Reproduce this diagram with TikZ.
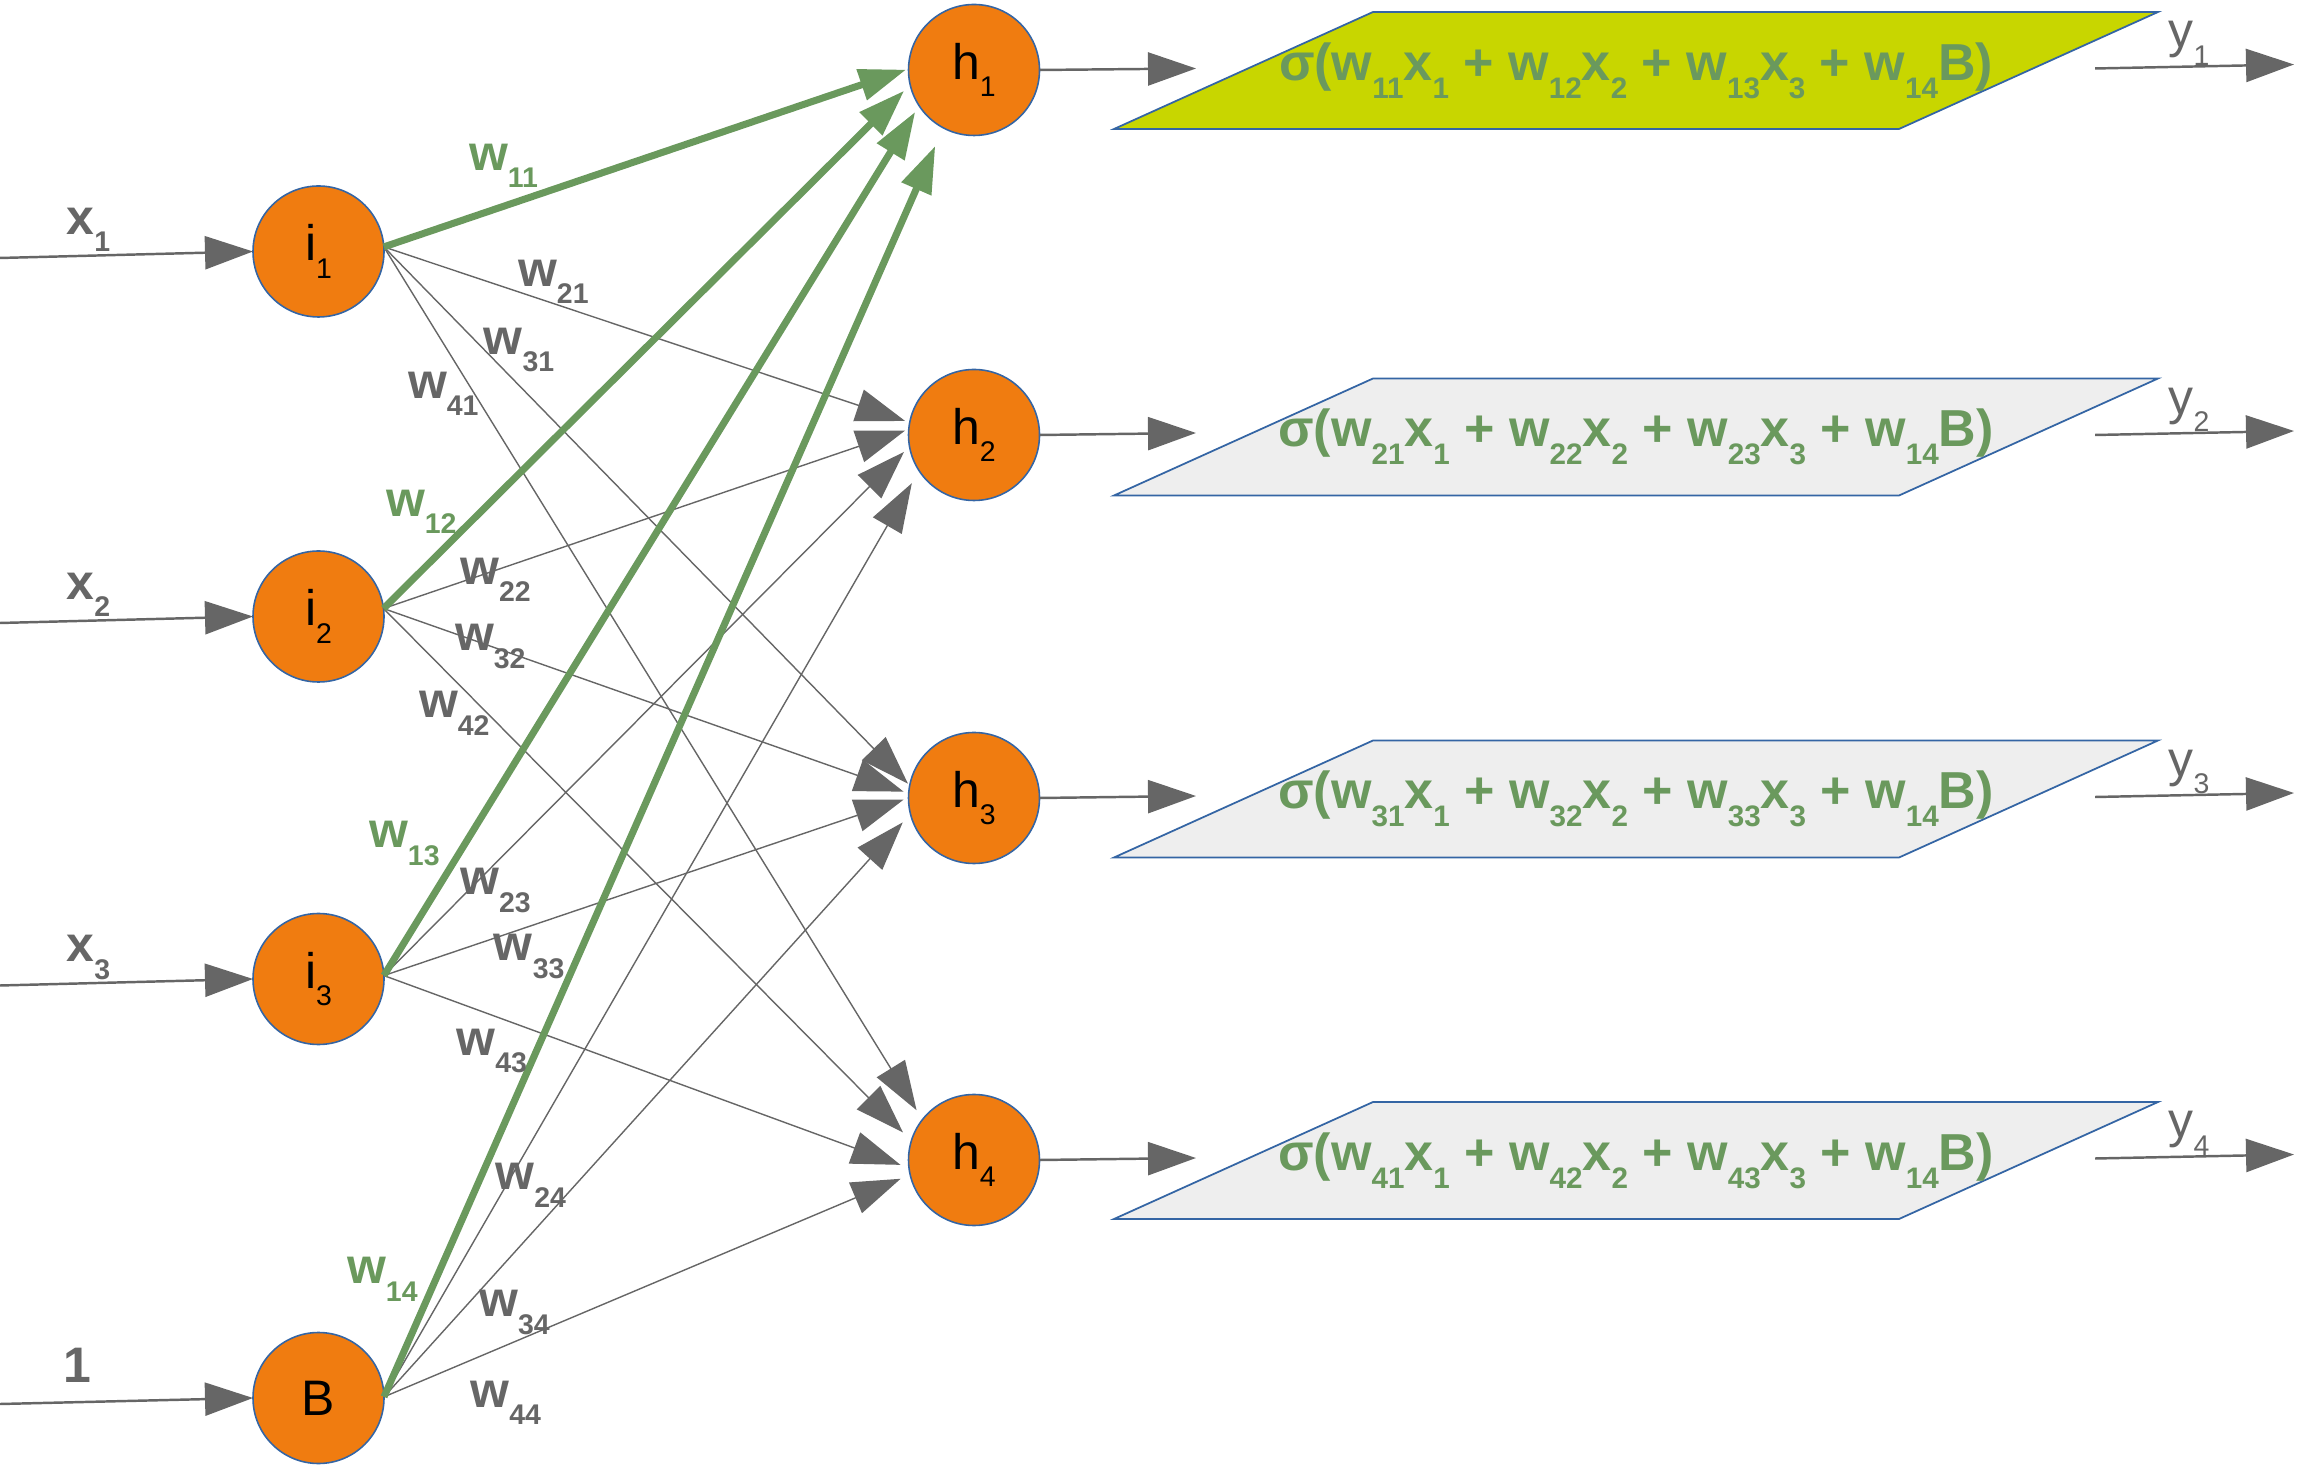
\documentclass[tikz,border=0pt]{standalone}
\usepackage{fontspec}
\setmainfont{Liberation Sans}
\usepackage{graphicx}
\usepackage{tikz}
\usetikzlibrary{arrows.meta,positioning}

\definecolor{nodeorange}{HTML}{F07C10}
\definecolor{nodeblue}{HTML}{3465A4}
\definecolor{wgreen}{HTML}{6A995D}
\definecolor{wgray}{HTML}{666666}
\definecolor{boxlime}{HTML}{C8D600}
\definecolor{boxgray}{HTML}{EEEEEE}

\newcommand{\sbx}[1]{\raisebox{-0.35em}{\scalebox{0.57}{#1}}}

\tikzset{
	neuron/.style={circle, draw=nodeblue, line width=0.45pt, fill=nodeorange,
		minimum size=13.1mm, inner sep=0pt, outer sep=0pt,
		font=\fontsize{14.2}{15}\selectfont},
	wire/.style={draw=wgray, line width=0.4pt, -{Triangle[length=4.9mm,width=3.3mm]}},
	hot/.style={draw=wgreen, line width=2pt, -{Triangle[length=4.7mm,width=3.1mm]}},
	feed/.style={draw=wgray, line width=0.7pt, -{Triangle[length=4.8mm,width=3.3mm]}},
	wlbl/.style={text=wgray, inner sep=0pt, font=\fontsize{14.2}{15}\selectfont\bfseries},
	wlblg/.style={wlbl, text=wgreen},
	ylbl/.style={text=wgray, inner sep=0pt, font=\fontsize{14.2}{15}\selectfont},
	para/.style={draw=nodeblue, line width=0.5pt},
	formula/.style={text=wgreen, inner sep=0pt, font=\fontsize{14.8}{15}\selectfont\bfseries},
}

\begin{document}
\begin{tikzpicture}[x=0.1mm, y=-0.1mm]
	\useasboundingbox (0,0) rectangle (2302,1475); % Rand wie Vorlage
	
	% Ausgabe-Kaesten
	\draw[para, fill=boxlime] (1114,129) -- (1899,129) -- (2158,12) -- (1373,12) -- cycle;
	\draw[para, fill=boxgray] (1114,495.5) -- (1899,495.5) -- (2158,378.5) -- (1373,378.5) -- cycle;
	\draw[para, fill=boxgray] (1114,857.5) -- (1899,857.5) -- (2158,740.5) -- (1373,740.5) -- cycle;
	\draw[para, fill=boxgray] (1114,1219) -- (1899,1219) -- (2158,1102) -- (1373,1102) -- cycle;
	
	\node[formula] (f1) at (1636,70.5) {σ(w\sbx{11}x\sbx{1} + w\sbx{12}x\sbx{2} + w\sbx{13}x\sbx{3} + w\sbx{14}B)};
	\node[formula] (f2) at (1636,437) {σ(w\sbx{21}x\sbx{1} + w\sbx{22}x\sbx{2} + w\sbx{23}x\sbx{3} + w\sbx{14}B)};
	\node[formula] (f3) at (1636,799) {σ(w\sbx{31}x\sbx{1} + w\sbx{32}x\sbx{2} + w\sbx{33}x\sbx{3} + w\sbx{14}B)};
	\node[formula] (f4) at (1636,1160.5) {σ(w\sbx{41}x\sbx{1} + w\sbx{42}x\sbx{2} + w\sbx{43}x\sbx{3} + w\sbx{14}B)};
	
	% Neuronen
	\node[neuron] (i1) at (318.5,251.5) {i\sbx{1}};
	\node[neuron] (i2) at (318.5,616.5) {i\sbx{2}};
	\node[neuron] (i3) at (318.5,979) {i\sbx{3}};
	\node[neuron] (B) at (318.5,1398) {B};
	
	\node[neuron] (h1) at (974,70) {h\sbx{1}};
	\node[neuron] (h2) at (974,435) {h\sbx{2}};
	\node[neuron] (h3) at (974,798) {h\sbx{3}};
	\node[neuron] (h4) at (974,1160) {h\sbx{4}};
	
	% Eingaenge
	\coordinate (xs1) at (0,258);
	\coordinate (xs2) at (0,623);
	\coordinate (xs3) at (0,985.5);
	\coordinate (xs4) at (0,1404);
	\draw[feed] (xs1) -- (i1.west);
	\draw[feed] (xs2) -- (i2.west);
	\draw[feed] (xs3) -- (i3.west);
	\draw[feed] (xs4) -- (B.west);
	
	\node[wlbl] (lx1) at (88.5,230) {x\sbx{1}};
	\node[wlbl] (lx2) at (88.5,595) {x\sbx{2}};
	\node[wlbl] (lx3) at (88.5,957.5) {x\sbx{3}};
	\node[wlbl] (lone) at (77.5,1365) {1};
	
	% Gewichte (grau)
	\draw[wire, shorten >=0.49mm] (i1.4) -- (h2.169);
	\draw[wire, shorten >=0.25mm] (i1.4) -- (h3.169);
	\draw[wire, shorten >=1.11mm] (i1.4) -- (h4.142);
	\draw[wire, shorten >=0.38mm] (i2.7) -- (h2.175);
	\draw[wire, shorten >=0.54mm] (i2.7) -- (h3.176);
	\draw[wire, shorten >=1.19mm] (i2.7) -- (h4.163);
	\draw[wire, shorten >=0.78mm] (i3.3) -- (h2.190);
	\draw[wire, shorten >=0.52mm] (i3.3) -- (h3.180);
	\draw[wire, shorten >=0.91mm] (i3.3) -- (h4.187);
	\draw[wire, shorten >=1.45mm] (B.1) -- (h2.213);
	\draw[wire, shorten >=1.15mm] (B.1) -- (h3.194);
	\draw[wire, shorten >=1.04mm] (B.1) -- (h4.193);
	
	% Gewichte zu h1 (gruen)
	\draw[hot, shorten >=0.25mm] (i1.4) -- (h1.179);
	\draw[hot, shorten >=0.85mm] (i2.7) -- (h1.193);
	\draw[hot, shorten >=0.73mm] (i3.3) -- (h1.213);
	\draw[hot, shorten >=1.98mm] (B.1) -- (h1.242);
	
	\node[wlblg] (lw11) at (503.5,166) {w\sbx{11}};
	\node[wlblg] (lw12) at (421.3,511.6) {w\sbx{12}};
	\node[wlblg] (lw13) at (404.4,843.4) {w\sbx{13}};
	\node[wlblg] (lw14) at (382.4,1279.4) {w\sbx{14}};
	
	\node[wlbl] (lw21) at (553.4,281.9) {w\sbx{21}};
	\node[wlbl] (lw31) at (519,350) {w\sbx{31}};
	\node[wlbl] (lw41) at (443.3,394) {w\sbx{41}};
	\node[wlbl] (lw22) at (495.5,580) {w\sbx{22}};
	\node[wlbl] (lw32) at (490.3,646.7) {w\sbx{32}};
	\node[wlbl] (lw42) at (454.3,713.4) {w\sbx{42}};
	\node[wlbl] (lw23) at (495.5,890.3) {w\sbx{23}};
	\node[wlbl] (lw33) at (529.2,956.4) {w\sbx{33}};
	\node[wlbl] (lw43) at (491.8,1051) {w\sbx{43}};
	\node[wlbl] (lw24) at (530.7,1185.4) {w\sbx{24}};
	\node[wlbl] (lw34) at (514.5,1312.4) {w\sbx{34}};
	\node[wlbl] (lw44) at (505.7,1402.7) {w\sbx{44}};
	
	% h -> Kasten -> y
	\coordinate (t1) at (1196,68.5);
	\coordinate (t2) at (1196,433);
	\coordinate (t3) at (1196,796);
	\coordinate (t4) at (1196,1158);
	\draw[feed] (h1.east) -- (t1);
	\draw[feed] (h2.east) -- (t2);
	\draw[feed] (h3.east) -- (t3);
	\draw[feed] (h4.east) -- (t4);
	
	\coordinate (ys1) at (2095,68.5);   \coordinate (ye1) at (2294,64.5);
	\coordinate (ys2) at (2095,435);    \coordinate (ye2) at (2294,431);
	\coordinate (ys3) at (2095,797);    \coordinate (ye3) at (2294,793);
	\coordinate (ys4) at (2095,1158.5); \coordinate (ye4) at (2294,1154.5);
	\draw[feed] (ys1) -- (ye1);
	\draw[feed] (ys2) -- (ye2);
	\draw[feed] (ys3) -- (ye3);
	\draw[feed] (ys4) -- (ye4);
	
	\node[ylbl] (ly1) at (2189,43.5) {y\sbx{1}};
	\node[ylbl] (ly2) at (2189,410) {y\sbx{2}};
	\node[ylbl] (ly3) at (2189,772) {y\sbx{3}};
	\node[ylbl] (ly4) at (2189,1133.5) {y\sbx{4}};
\end{tikzpicture}
\end{document}
